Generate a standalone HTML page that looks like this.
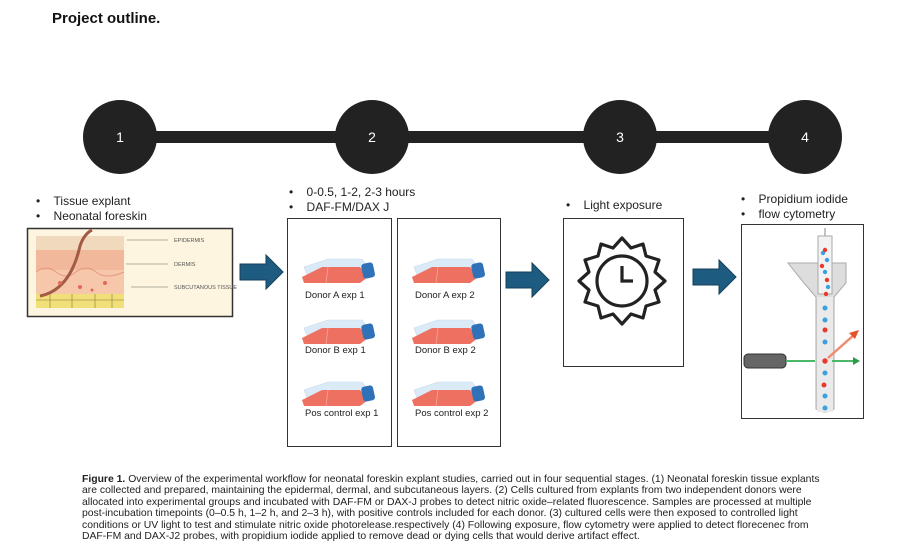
<!DOCTYPE html>
<html><head><style>
body{margin:0;width:903px;height:560px;background:#fff;position:relative;overflow:hidden;font-family:"Liberation Sans",sans-serif;color:#222}
.t{position:absolute;font-size:12px;white-space:nowrap}
.b{position:absolute;border:1.5px solid #333;box-sizing:border-box;background:transparent}
.cap{position:absolute;left:82px;top:474px;width:800px;font-size:10.4px;line-height:11.4px;color:#222}
</style></head><body>
<div class="t" style="left:52px;top:10px;font-size:15px;font-weight:bold;color:#111">Project outline.</div>
<div class="b" style="left:287px;top:218px;width:105px;height:229px"></div>
<div class="b" style="left:397px;top:218px;width:104px;height:229px"></div>
<div class="b" style="left:563px;top:218px;width:121px;height:149px"></div>
<div class="b" style="left:741px;top:224px;width:123px;height:195px"></div>
<svg style="position:absolute;left:0;top:0" width="903" height="560">
<defs>
<g id="fl">
<polygon points="4,12 28,4 62,4 68,12 62,22 8,22" fill="#dbeaf7" stroke="#c5d9ec" stroke-width="0.6"/>
<polygon points="2,22 22,12 60,12 68,22 60,28 4,28" fill="#ee7060"/>
<line x1="28" y1="12" x2="26" y2="28" stroke="#f5b0a6" stroke-width="0.6"/>
<rect x="62" y="8" width="12" height="15" rx="3" fill="#2f72b8" transform="rotate(-12 68 15)"/>
</g>
<g id="ar"><polygon points="0,-8 26,-8 26,-17 43,0 26,17 26,8 0,8" fill="#1e5b80" stroke="#153f5a" stroke-width="1"/></g>
</defs>
<rect x="120" y="131" width="685" height="12" fill="#222"/>
<g fill="#222"><circle cx="120" cy="137" r="37"/><circle cx="372" cy="137" r="37"/><circle cx="620" cy="137" r="37"/><circle cx="805" cy="137" r="37"/></g>
<g fill="#fff" font-size="14" text-anchor="middle" font-family="Liberation Sans"><text x="120" y="142">1</text><text x="372" y="142">2</text><text x="620" y="142">3</text><text x="805" y="142">4</text></g>
<use href="#ar" x="240" y="272"/><use href="#ar" x="506" y="280"/><use href="#ar" x="693" y="277"/>
<rect x="27.5" y="228.5" width="205" height="88" fill="#fdf5df" stroke="#333" stroke-width="1.5"/>
<rect x="36" y="236" width="88" height="18" fill="#f1d9bd"/>
<rect x="36" y="250" width="88" height="24" fill="#f2b89c"/>
<rect x="36" y="270" width="88" height="26" fill="#f6c7ab"/>
<path d="M36 272 q10 -8 20 0 t20 0 t20 0 t28 0" stroke="#e49a80" fill="none"/>
<rect x="36" y="294" width="88" height="14" fill="#f1df7a"/>
<path d="M36 300 h88 M50 294 v14 M72 294 v14 M95 294 v14 M112 294 v14" stroke="#8a7a30" stroke-width="0.6"/>
<path d="M40 296 q30 -6 40 -50 q4 -12 12 -16" stroke="#a35a45" stroke-width="3" fill="none"/>
<g fill="#e06a55"><circle cx="60" cy="283" r="2"/><circle cx="80" cy="287" r="2"/><circle cx="105" cy="283" r="2"/><circle cx="92" cy="290" r="1.5"/></g>
<g stroke="#666" stroke-width="0.6"><line x1="127" y1="240" x2="168" y2="240"/><line x1="126" y1="264" x2="168" y2="264"/><line x1="131" y1="287" x2="168" y2="287"/></g>
<g font-size="5.5" fill="#555" font-family="Liberation Sans"><text x="174" y="242">EPIDERMIS</text><text x="174" y="266">DERMIS</text><text x="174" y="289">SUBCUTANOUS TISSUE</text></g>
<use href="#fl" x="300" y="255"/><use href="#fl" x="300" y="316"/><use href="#fl" x="300" y="378"/>
<use href="#fl" x="410" y="255"/><use href="#fl" x="410" y="316"/><use href="#fl" x="410" y="378"/>
<g transform="translate(622,281)" fill="none" stroke="#222" stroke-width="3.2">
<path d="M0,-43 L9,-33 L21,-37 L24,-25 L37,-21 L33,-9 L43,0 L33,9 L37,21 L24,25 L21,37 L9,33 L0,43 L-9,33 L-21,37 L-24,25 L-37,21 L-33,9 L-43,0 L-33,-9 L-37,-21 L-24,-25 L-21,-37 L-9,-33 Z" stroke-linejoin="round"/>
<circle r="25"/><path d="M0,-15 V0 H11"/>
</g>
<line x1="825" y1="228" x2="825" y2="240" stroke="#888"/>
<path d="M788 263 h58 v20 l-12 14 v112 q-9 6 -18 0 v-112 l-12 -14 z" fill="#ddd" stroke="#aaa"/>
<rect x="818" y="236" width="14" height="58" fill="#f2f2f2" stroke="#aaa"/>
<rect x="817" y="297" width="16" height="115" fill="#eaeaea"/>
<g fill="#3aa0e0"><circle cx="823" cy="253" r="2.2"/><circle cx="827" cy="260" r="2.2"/><circle cx="825" cy="272" r="2.2"/><circle cx="828" cy="287" r="2.2"/><circle cx="825" cy="308" r="2.5"/><circle cx="825" cy="320" r="2.5"/><circle cx="825" cy="342" r="2.5"/><circle cx="825" cy="373" r="2.5"/><circle cx="825" cy="396" r="2.5"/><circle cx="825" cy="408" r="2.5"/></g>
<g fill="#e83a2a"><circle cx="825" cy="250" r="2.2"/><circle cx="822" cy="266" r="2.2"/><circle cx="827" cy="280" r="2.2"/><circle cx="826" cy="294" r="2.2"/><circle cx="825" cy="330" r="2.5"/><circle cx="825" cy="361" r="2.7"/><circle cx="824" cy="385" r="2.5"/></g>
<rect x="744" y="354" width="42" height="14" rx="4" fill="#666" stroke="#333"/>
<line x1="786" y1="361" x2="815" y2="361" stroke="#4cb86a" stroke-width="2"/>
<line x1="832" y1="361" x2="855" y2="361" stroke="#4cb86a" stroke-width="2"/>
<polygon points="860,361 853,357 853,365" fill="#2a9a4a"/>
<line x1="828" y1="358" x2="855" y2="334" stroke="#f08a70" stroke-width="2.5"/>
<polygon points="859,330 849,333 855,339" fill="#e8502a"/>
</svg>
<div class="t" style="left:36px;top:194px">•&nbsp;&nbsp;&nbsp;&nbsp;Tissue explant</div>
<div class="t" style="left:36px;top:209px">•&nbsp;&nbsp;&nbsp;&nbsp;Neonatal foreskin</div>
<div class="t" style="left:289px;top:185px">•&nbsp;&nbsp;&nbsp;&nbsp;0-0.5, 1-2, 2-3 hours</div>
<div class="t" style="left:289px;top:200px">•&nbsp;&nbsp;&nbsp;&nbsp;DAF-FM/DAX J</div>
<div class="t" style="left:566px;top:198px">•&nbsp;&nbsp;&nbsp;&nbsp;Light exposure</div>
<div class="t" style="left:741px;top:192px">•&nbsp;&nbsp;&nbsp;&nbsp;Propidium iodide</div>
<div class="t" style="left:741px;top:207px">•&nbsp;&nbsp;&nbsp;&nbsp;flow cytometry</div>
<div class="t" style="left:305px;top:290px;font-size:9.5px">Donor A exp 1</div>
<div class="t" style="left:305px;top:345px;font-size:9.5px">Donor B exp 1</div>
<div class="t" style="left:305px;top:408px;font-size:9.5px">Pos control exp 1</div>
<div class="t" style="left:415px;top:290px;font-size:9.5px">Donor A exp 2</div>
<div class="t" style="left:415px;top:345px;font-size:9.5px">Donor B exp 2</div>
<div class="t" style="left:415px;top:408px;font-size:9.5px">Pos control exp 2</div>
<div class="cap"><b>Figure 1.</b> Overview of the experimental workflow for neonatal foreskin explant studies, carried out in four sequential stages. (1) Neonatal foreskin tissue explants<br>are collected and prepared, maintaining the epidermal, dermal, and subcutaneous layers. (2) Cells cultured from explants from two independent donors were<br>allocated into experimental groups and incubated with DAF-FM or DAX-J probes to detect nitric oxide–related fluorescence. Samples are processed at multiple<br>post-incubation timepoints (0–0.5 h, 1–2 h, and 2–3 h), with positive controls included for each donor. (3) cultured cells were then exposed to controlled light<br>conditions or UV light to test and stimulate nitric oxide photorelease.respectively (4) Following exposure, flow cytometry were applied to detect florecenec from<br>DAF-FM and DAX-J2 probes, with propidium iodide applied to remove dead or dying cells that would derive artifact effect.</div>
</body></html>
